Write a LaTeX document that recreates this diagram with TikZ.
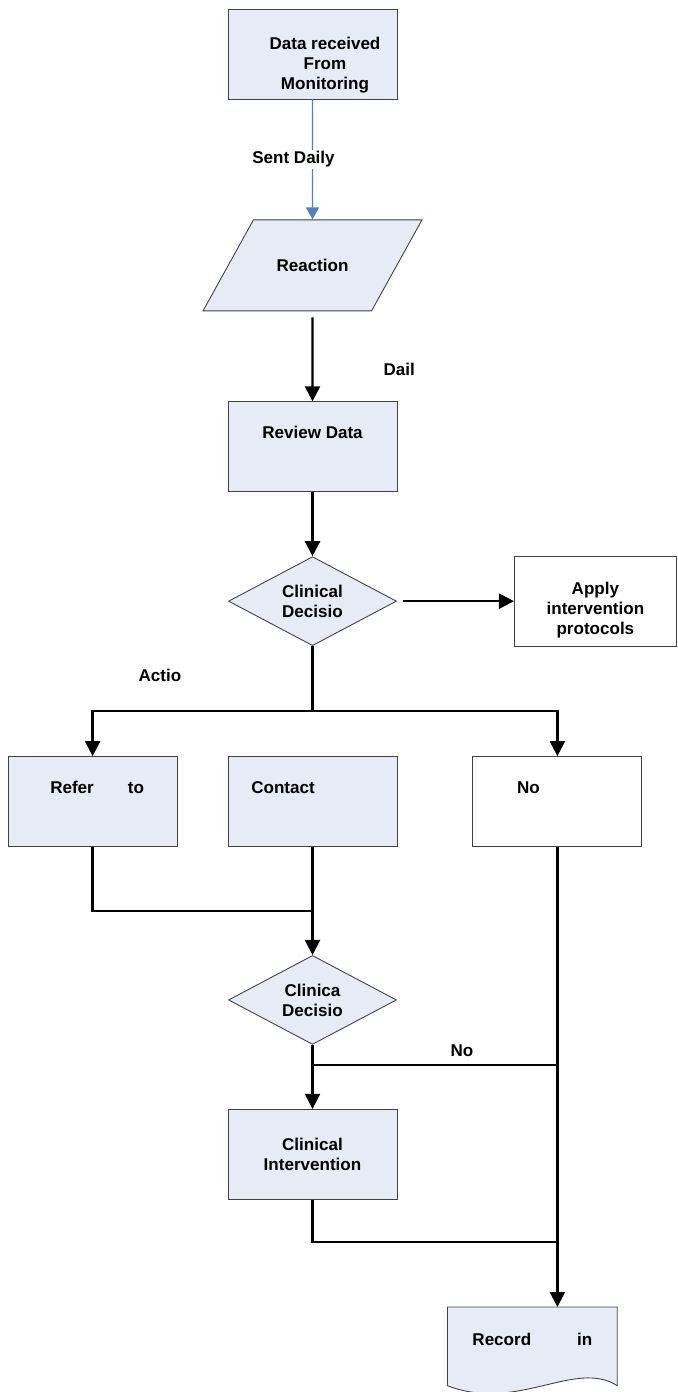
\documentclass[tikz,border=0pt]{standalone}
\usepackage{fontspec}
\setmainfont{Liberation Sans}
\usetikzlibrary{positioning,arrows.meta,shapes.geometric,calc,backgrounds}
\definecolor{boxfill}{HTML}{E6EBF5}
\definecolor{boxline}{HTML}{404040}
\definecolor{linkblue}{HTML}{4F81BD}

\begin{document}
\begin{tikzpicture}[
    font=\bfseries\fontsize{9.7}{11.4}\selectfont,
    >={Triangle[length=0.3cm,width=0.3cm]},
    node distance=1.28cm and 1.0cm,
    box/.style={
        draw=boxline,
        fill=boxfill,
        line width=0.5pt,
        align=center,
        inner sep=2pt,
        minimum width=3.38cm,
        minimum height=1.8cm
    },
    plainbox/.style={
        box,
        fill=white
    },
    para/.style={
        draw=boxline,
        fill=boxfill,
        line width=0.5pt,
        trapezium,
        trapezium left angle=61,
        trapezium right angle=119,
        trapezium stretches body,
        inner ysep=0.785cm,
        minimum width=4.38cm
    },
    decision/.style={
        box,
        diamond,
        aspect=1.9,
        minimum width=3.36cm,
        minimum height=1.78cm
    },
    record/.style={
        align=center,
        inner sep=2pt,
        text height=0.25cm,
        text depth=0.28cm,
        minimum width=3.38cm,
        minimum height=1.56cm
    },
    toptext/.style={
        text height=0.25cm,
        text depth=0.57cm
    },
    flow/.style={
        line width=1.3pt,
        black
    },
    bluelink/.style={
        line width=0.6pt,
        linkblue,
        -{Triangle[length=0.24cm,width=0.26cm]}
    }
]
\useasboundingbox (0,0) rectangle (13.54,-27.84);

% Nodes - main column
\node[box] (data) at (6.25,-1.08) {\rule{0pt}{0.71cm}\hspace*{0.5cm}Data received\\\hspace*{0.5cm}From\\\hspace*{0.5cm}Monitoring};
\node[para, below=2.4cm of data] (react) {Reaction};
\node[box, toptext, below=1.8cm of react] (review) {Review Data};
\node[decision, below=of review] (dec1) {Clinical\\Decisio};
\node[plainbox, minimum width=3.24cm, right=2.34cm of dec1] (apply) {\rule{0pt}{0.6cm}Apply\\intervention\\protocols};

% Action row
\node[box, toptext, below=2.2cm of dec1] (contact) {Contact\hspace{1.18cm}};
\node[box, toptext, left=of contact] (refer) {\hspace*{0.18cm}Refer\hspace{0.68cm}to};
\node[plainbox, toptext, right=1.5cm of contact] (nobox) {No\hspace{1.16cm}};

% Lower part
\node[decision, below=2.16cm of contact] (dec2) {Clinica\\Decisio};
\node[box, below=of dec2] (interv) {Clinical\\Intervention};
\node[record, below=9.2cm of nobox, xshift=-0.5cm] (rec) {Record\hspace{0.92cm}in};
\begin{scope}[on background layer]
    \draw[draw=boxline, fill=boxfill, line width=0.5pt] (rec.north west) -- (rec.north east) -- (rec.south east)
        .. controls ($(rec.south east)+(-0.84,0.54)$) and ($(rec.south west)+(1.4,-0.54)$) .. (rec.south west) -- cycle;
\end{scope}

% Arrows
\draw[bluelink] (data) -- (react) node[midway, fill=white, text=black, inner sep=1pt, xshift=-0.38cm] (sent) {Sent Daily};
\draw[->, flow, shorten <=0.12cm] (react) -- (review) node[pos=0.645, right=1.28cm] (daily) {Dail};
\draw[->, flow] (review) -- (dec1);
\draw[->, flow, shorten <=0.12cm] (dec1) -- (apply);
\draw[flow] (dec1.south) -- ++(0,-1.3) coordinate (split);
\draw[->, flow] (split) -| (refer.north) node[pos=0.347, above=0.45cm] (actio) {Actio};
\draw[->, flow] (split) -| (nobox.north);
\draw[flow] (refer.south) -- ++(0,-1.28) -| (contact.south);
\draw[->, flow] (contact) -- (dec2);
\draw[->, flow] (dec2) -- (interv);
\coordinate (nojoin) at ($(dec2.south)!0.31!(interv.north)$);
\draw[flow] (nojoin) -- (nojoin -| nobox.south) node[pos=0.61, above=0.02cm] (nolabel) {No};
\draw[flow] (interv.south) -- ++(0,-0.84) coordinate (ijoin) -- (ijoin -| nobox.south);
\draw[->, flow] (nobox.south) -- (nobox.south |- rec.north);

\end{tikzpicture}
\end{document}
